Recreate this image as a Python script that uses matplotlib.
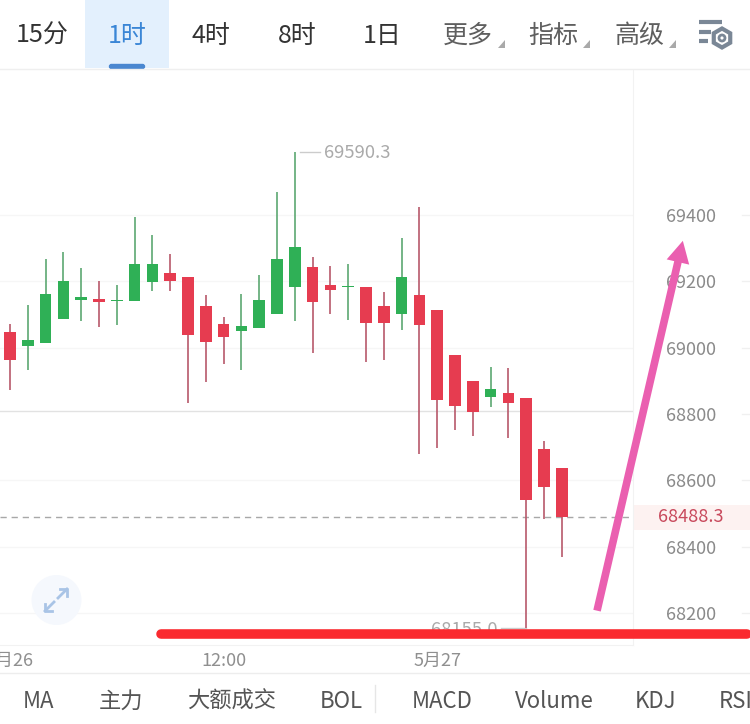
import matplotlib
matplotlib.use("Agg")
from matplotlib import pyplot as plt
from matplotlib.patches import Rectangle, Circle, RegularPolygon, FancyBboxPatch

plt.rcParams['font.family'] = ['Noto Sans CJK SC', 'DejaVu Sans']

# candles
highs = [69072, 69129, 69267, 69287, 69241, 69200, 69189, 69394, 69340, 69281, 69214, 69158,
         69092, 69162, 69218, 69469, 69590.3, 69272, 69245, 69253, 69182, 69168, 69332, 69425,
         69114, 68978, 68900, 68942, 68938, 68848, 68720, 68636]
lows = [68871, 68934, 69014, 69087, 69081, 69062, 69067, 69142, 69171, 69171, 68832, 68895,
        68952, 68934, 69058, 69100, 69081, 68983, 69102, 69083, 68956, 68964, 69053, 68679,
        68698, 68753, 68734, 68821, 68728, 68155, 68482, 68370]
opens = [69047, 69004, 69014, 69087, 69144, 69148, 69142, 69142, 69198, 69224, 69214, 69124,
         69072, 69051, 69058, 69100, 69184, 69243, 69189, 69183, 69182, 69127, 69100, 69158,
         69114, 68978, 68900, 68851, 68864, 68848, 68695, 68636]
closes = [68962, 69024, 69162, 69202, 69154, 69138, 69144, 69253, 69251, 69202, 69037, 69018,
          69033, 69064, 69143, 69268, 69304, 69138, 69173, 69185, 69073, 69075, 69214, 69068,
          68842, 68824, 68805, 68876, 68832, 68542, 68579, 68488.3]

price_ticks = [68200, 68400, 68600, 68800, 69000, 69200, 69400]
date_pos = [0, 12, 24]
date_labels = ["5月26", "12:00", "5月27"]
last_price = 68488.3
high_price = 69590.3
low_price = 68155.0
high_idx = 16
low_idx = 29
ref_level = 68808

# hand drawn marks on top of the screenshot
red_line_x = [8.5, 41.4]
red_line_y = [68138, 68138]
pink_start = (32.98, 68207)
pink_tip = (37.8, 69322)

top_tabs = ["15分", "1时", "4时", "8时", "1日", "更多", "指标", "高级"]
top_x = [42.6, 127, 211, 297, 382, 468, 553, 639.5]
top_colors = ["#333333", "#3a86d6", "#333333", "#333333", "#333333", "#5f5f5f", "#5f5f5f", "#5f5f5f"]
bottom_tabs = ["MA", "主力", "大额成交", "BOL", "MACD", "Volume", "KDJ", "RSI"]
bottom_x = [38.8, 120.6, 231.6, 341.6, 442, 554, 656, 736]

RED = "#e63c50"
GREEN = "#2fb056"
RED_WICK = "#b8596b"
GREEN_WICK = "#5ca872"

fig = plt.figure(figsize=(7.5, 7.24), dpi=100, facecolor="white")

# price chart: 633 px wide, from y=69 to y=645
ax = fig.add_axes([0, 79 / 724, 633 / 750, 576 / 724])
ax.set_xlim(-0.562, 35.0)
ax.set_ylim(68103.5, 69840)

for i in range(len(opens)):
    up = closes[i] >= opens[i]
    ax.vlines(i, lows[i], highs[i], color=GREEN_WICK if up else RED_WICK, lw=1.2, zorder=3)
    bottom = min(opens[i], closes[i])
    ax.bar(i, abs(closes[i] - opens[i]), bottom=bottom, width=0.66,
           color=GREEN if up else RED, zorder=4)

ax.yaxis.tick_right()
ax.set_yticks(price_ticks)
ax.set_yticklabels([str(p) for p in price_ticks])
ax.tick_params(axis="y", length=0, pad=24, labelsize=13, labelcolor="#8a8a8a")
ax.set_xticks(date_pos)
ax.set_xticklabels(date_labels)
ax.tick_params(axis="x", length=0, pad=5, labelsize=13, labelcolor="#8f8f8f")
ax.grid(axis="y", color="#f6f6f6", lw=1)
ax.set_axisbelow(True)
# the 68800 grid line is replaced by the darker reference line
ax.get_ygridlines()[price_ticks.index(68800)].set_visible(False)
ax.axhline(ref_level, color="#e2e2e2", lw=1, zorder=1)

for side in ["top", "left"]:
    ax.spines[side].set_visible(False)
for side in ["right", "bottom"]:
    ax.spines[side].set_color("#f2f2f2")

# short ticks on the far right edge
ytrans = ax.get_yaxis_transform()
for p in price_ticks:
    ax.plot([742 / 633, 750 / 633], [p, p], color="#f0f0f0", lw=1, transform=ytrans, clip_on=False)

# last price
ax.axhline(last_price, color="#a8a8a8", lw=1, ls=(0, (4.5, 3.5)), zorder=2)
ax.add_patch(Rectangle((1, last_price - 37), 117 / 633, 74, transform=ytrans, clip_on=False,
                       facecolor="#fdf2f1", edgecolor="none", zorder=1))
ax.text(691 / 633, last_price, f"{last_price:.1f}", transform=ytrans, ha="center", va="center",
        fontsize=13, color="#c8495c", zorder=5)

# high / low marks, text sits a little under the line
ax.plot([high_idx + 0.3, high_idx + 1.4], [high_price, high_price], color="#cccccc", lw=1)
ax.text(high_idx + 1.65, high_price - 5, f"{high_price:.1f}", ha="left", va="center", fontsize=13.3, color="#aaaaaa")
ax.plot([low_idx - 1.4, low_idx], [low_price, low_price], color="#cccccc", lw=1)
ax.text(low_idx - 1.6, low_price - 5, f"{low_price:.1f}", ha="right", va="center", fontsize=13.3, color="#aaaaaa")

# marks drawn by hand
ax.plot(red_line_x, red_line_y, color="#fa2a2f", lw=6.9, solid_capstyle="round", clip_on=False, zorder=8)
ax.annotate("", xy=pink_tip, xytext=pink_start, annotation_clip=False, zorder=9,
            arrowprops=dict(arrowstyle="-|>,head_width=0.17,head_length=0.32", color="#ea5fb0",
                            lw=5.5, capstyle="butt", joinstyle="miter", shrinkA=0, shrinkB=0,
                            mutation_scale=22))

# app toolbar, in pixels
ui = fig.add_axes([0, 0, 1, 1], facecolor="none")
ui.set_xlim(0, 750)
ui.set_ylim(724, 0)
ui.axis("off")

ui.add_patch(Rectangle((85, 0), 84, 68, facecolor="#e3f0fd", edgecolor="none"))
ui.add_patch(FancyBboxPatch((109.5, 64.5), 35, 4, boxstyle="round,pad=0,rounding_size=2",
                            mutation_aspect=1, facecolor="#4a87d0", edgecolor="#4a87d0", lw=1))
ui.plot([0, 750], [68.5, 68.5], color="#efefef", lw=1)
ui.plot([0, 750], [672.5, 672.5], color="#ededed", lw=1)
ui.plot([375, 375], [685, 712], color="#e6e6e6", lw=1)

for label, x, c in zip(top_tabs, top_x, top_colors):
    ui.text(x, 36, label, ha="center", va="center", fontsize=18, color=c)
for x in [505, 590, 676]:
    ui.fill([x - 7, x, x], [48, 48, 40], color="#a9a9a9", lw=0)
for label, x in zip(bottom_tabs, bottom_x):
    ui.text(x, 701, label, ha="center", va="center", fontsize=16, color="#555555")

# settings icon
for x0, x1, y in [(699, 722, 22), (699, 711, 32), (699, 708, 41)]:
    ui.plot([x0, x1], [y, y], color="#7a8796", lw=3, solid_capstyle="butt")
ui.add_patch(RegularPolygon((722, 38), 6, radius=9.5, facecolor="none", edgecolor="#7a8796", lw=3))
ui.add_patch(Circle((722, 38), 3, facecolor="none", edgecolor="#7a8796", lw=2))

# expand button
ui.add_patch(Circle((56.5, 600), 25, facecolor="#f5f8fd", edgecolor="none"))
for x0, y0, x1, y1 in [(58, 598, 67, 589), (54, 602, 45, 611)]:
    ui.plot([x0, x1], [y0, y1], color="#a9c4e6", lw=2)
ui.plot([60, 67, 67], [589, 589, 596], color="#a9c4e6", lw=2)
ui.plot([45, 45, 52], [604, 611, 611], color="#a9c4e6", lw=2)

fig.savefig("out.png", dpi=100)
